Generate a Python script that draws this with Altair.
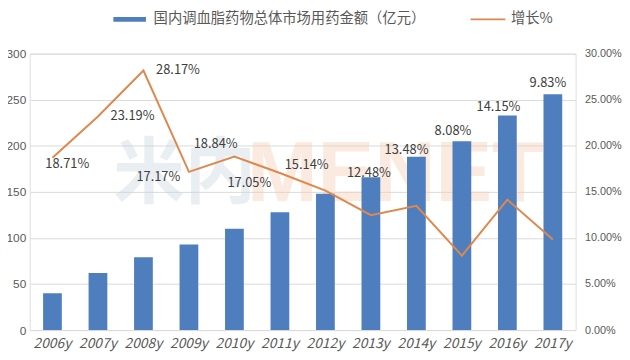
import altair as alt
import pandas as pd

# ---- data ----
years = ["2006y", "2007y", "2008y", "2009y", "2010y", "2011y",
         "2012y", "2013y", "2014y", "2015y", "2016y", "2017y"]
sales = [40, 62, 79, 93, 110, 128, 148, 166, 188, 205, 233, 256]
growth_pct = [18.71, 23.19, 28.17, 17.17, 18.84, 17.05,
              15.14, 12.48, 13.48, 8.08, 14.15, 9.83]

bar_name = "国内调血脂药物总体市场用药金额（亿元）"
line_name = "增长%"

# label placement offsets (px) relative to each line point (layout only)
label_dx = [15, 35, 35, -31, -19, -31, -19, -2, -10, -9, -9, -5]
label_dy = [6, 0, 0, 5, -13, 10, -26, -43, -57, -126, -94, -158]

BLUE = "#4F7EBF"
ORANGE = "#DE884C"
GRAY = "#595959"
FONT = "Noto Sans CJK SC"
NUMFONT = "Liberation Sans"

df = pd.DataFrame({
    "year": years,
    "sales": sales,
    "growth": [g / 100 for g in growth_pct],
    "bar_series": bar_name,
    "line_series": line_name,
})
df["label"] = [f"{g:.2f}%" for g in growth_pct]

x_enc = alt.X("year:N", sort=years, title=None,
              axis=alt.Axis(labelAngle=0, labelFontStyle="italic", labelFontSize=14,
                            labelColor=GRAY, labelFont=FONT, domain=False, ticks=False,
                            labelPadding=7))

base = alt.Chart(df)

bars = base.mark_bar(size=19).encode(
    x=x_enc,
    y=alt.Y("sales:Q", title=None,
            scale=alt.Scale(domain=[0, 300], nice=False),
            axis=alt.Axis(values=[0, 50, 100, 150, 200, 250, 300], grid=True,
                          gridColor="#D9D9D9", domain=False, ticks=False,
                          labelColor=GRAY, labelFontSize=12, labelFont=NUMFONT,
                          labelPadding=4)),
    color=alt.Color("bar_series:N", title=None,
                    scale=alt.Scale(domain=[bar_name], range=[BLUE]),
                    legend=alt.Legend(orient="none", legendX=94, legendY=-42,
                                      symbolType="M-3,-0.45H3V0.45H-3Z",
                                      symbolSize=121, symbolStrokeWidth=0,
                                      labelFontSize=14.5, labelColor=GRAY,
                                      labelFont=FONT, labelOffset=17, padding=0,
                                      labelLimit=500)),
)

line = base.mark_line(strokeWidth=2).encode(
    x=alt.X("year:N", sort=years),
    y=alt.Y("growth:Q", title=None,
            scale=alt.Scale(domain=[0, 0.3], nice=False),
            axis=alt.Axis(orient="right", values=[0, 0.05, 0.10, 0.15, 0.20, 0.25, 0.30],
                          format=".2%", grid=False, domain=False, ticks=False,
                          labelColor=GRAY, labelFontSize=11, labelFont=NUMFONT,
                          labelPadding=9)),
    stroke=alt.Stroke("line_series:N", title=None,
                      scale=alt.Scale(domain=[line_name], range=[ORANGE]),
                      legend=alt.Legend(orient="none", legendX=457, legendY=-42,
                                        symbolType="M-3.2,0H3.2", symbolSize=121,
                                        symbolStrokeWidth=2, symbolFillColor="transparent",
                                        labelFontSize=14.5, labelColor=GRAY,
                                        labelFont=FONT, labelOffset=16, padding=0,
                                        labelLimit=200)),
)

labels = []
for i, yr in enumerate(years):
    labels.append(
        base.transform_filter(alt.datum.year == yr)
        .mark_text(dx=label_dx[i], dy=label_dy[i], fontSize=13, color="#404040",
                   font=FONT, baseline="middle", align="center")
        .encode(
            x=alt.X("year:N", sort=years),
            y=alt.Y("growth:Q", scale=alt.Scale(domain=[0, 0.3], nice=False), axis=None),
            text="label:N",
        )
    )

wm_cn = alt.Chart(pd.DataFrame({"t": ["米内"]})).mark_text(
    fontSize=72, fontWeight="bold", font=FONT, color="#C9D6E3", opacity=0.4,
    align="left", baseline="middle"
).encode(x=alt.value(85), y=alt.value(123), text="t:N")

wm_en = alt.Chart(pd.DataFrame({"t": ["MENET"]})).mark_text(
    fontSize=86, fontWeight="bold", font="Liberation Sans", color="#F6CDB2", opacity=0.4,
    align="left", baseline="middle"
).encode(x=alt.value(220), y=alt.value(123), text="t:N")

chart = alt.layer(wm_cn, wm_en, bars, line, *labels).resolve_scale(
    y="independent", color="independent", stroke="independent"
).properties(
    width=553, height=280,
    autosize=alt.AutoSizeParams(type="none"),
    padding={"left": 22, "top": 44, "right": 47, "bottom": 26},
).configure_view(stroke=None).configure(font=FONT)

chart.save("out.html", embed_options={"renderer": "svg", "actions": False})
